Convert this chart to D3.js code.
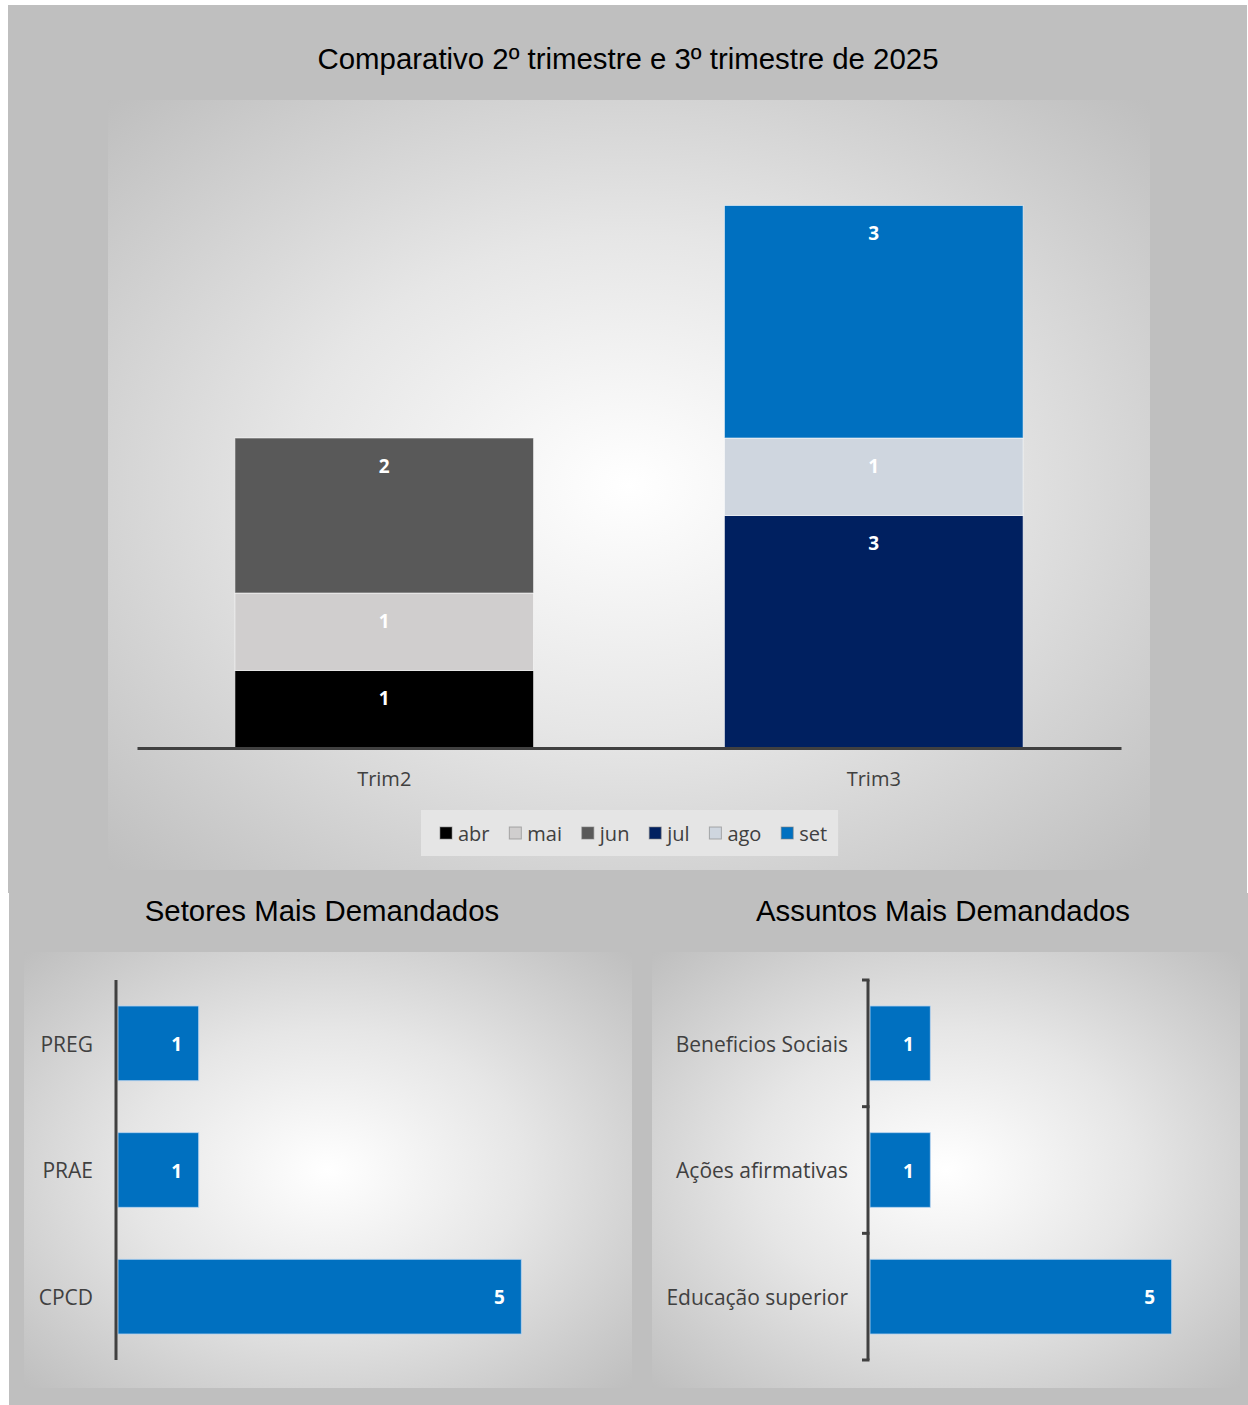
<!DOCTYPE html>
<html>
<head>
<meta charset="utf-8">
<script src="https://cdn.jsdelivr.net/npm/d3@7"></script>
<style>
  html, body { margin: 0; padding: 0; background: #ffffff; }
  svg { display: block; }
</style>
</head>
<body>
<svg id="chart" width="1248" height="1405"></svg>
<script>
// ---- Data ----
const quarters = ["Trim2", "Trim3"];
const months = ["abr", "mai", "jun", "jul", "ago", "set"];
const monthColors = ["#000000", "#d0cece", "#595959", "#002060", "#cfd6df", "#0070c0"];
// monthly counts per quarter (0 where the month is outside the quarter)
const trim2Values = [1, 1, 2, 0, 0, 0];
const trim3Values = [0, 0, 0, 3, 1, 3];

const sectors = ["PREG", "PRAE", "CPCD"];
const sectorValues = [1, 1, 5];

const subjects = ["Beneficios Sociais", "Ações afirmativas", "Educação superior"];
const subjectValues = [1, 1, 5];

const barBlue = "#0070c0";
const axisColor = "#404040";
const textColor = "#404040";
const panelGray = "#bfbfbf";
const labelFont = "'Open Sans', sans-serif";
const titleFont = "'Liberation Sans', Arial, sans-serif";

const svg = d3.select("#chart");
const defs = svg.append("defs");

function radial(id) {
  const g = defs.append("radialGradient").attr("id", id)
    .attr("cx", 0.5).attr("cy", 0.5).attr("r", 0.72);
  g.append("stop").attr("offset", "0%").attr("stop-color", "#ffffff");
  g.append("stop").attr("offset", "45%").attr("stop-color", "#e6e6e6");
  g.append("stop").attr("offset", "100%").attr("stop-color", "#bdbdbd");
}
radial("bgTop");
radial("bgLeft");
radial("bgRight");

// ---- Panels ----
svg.append("rect").attr("x", 8).attr("y", 5).attr("width", 1239).attr("height", 888).attr("fill", panelGray);
svg.append("rect").attr("x", 9).attr("y", 893).attr("width", 1239).attr("height", 512).attr("fill", panelGray);

// plot areas
svg.append("rect").attr("x", 108).attr("y", 100).attr("width", 1042).attr("height", 770).attr("fill", "url(#bgTop)");
svg.append("rect").attr("x", 24).attr("y", 952).attr("width", 608).attr("height", 436).attr("fill", "url(#bgLeft)");
svg.append("rect").attr("x", 652).attr("y", 952).attr("width", 588).attr("height", 436).attr("fill", "url(#bgRight)");

// ---- Titles ----
function title(x, y, t) {
  svg.append("text").attr("x", x).attr("y", y).attr("text-anchor", "middle")
    .attr("font-family", titleFont).attr("font-size", 29.4).attr("fill", "#000")
    .text(t);
}
title(628, 69, "Comparativo 2º trimestre e 3º trimestre de 2025");
title(322, 921, "Setores Mais Demandados");
title(943, 921, "Assuntos Mais Demandados");

// ---- Stacked column chart ----
const x = d3.scaleBand().domain(quarters).range([137, 1121]).paddingInner(0.39).paddingOuter(0.2);
const y = d3.scaleLinear().domain([0, 8]).range([748, 128]);

const rows = quarters.map((q, i) => {
  const vals = i === 0 ? trim2Values : trim3Values;
  const r = { quarter: q };
  months.forEach((m, j) => r[m] = vals[j]);
  return r;
});
const series = d3.stack().keys(months)(rows);

const colG = svg.append("g");
series.forEach((s, si) => {
  s.forEach(d => {
    const v = d[1] - d[0];
    if (v <= 0) return;
    colG.append("rect")
      .attr("x", x(d.data.quarter))
      .attr("y", y(d[1]))
      .attr("width", x.bandwidth())
      .attr("height", y(d[0]) - y(d[1]))
      .attr("fill", monthColors[si])
      .attr("stroke", "rgba(255,255,255,0.55)")
      .attr("stroke-width", 1);
    colG.append("text")
      .attr("x", x(d.data.quarter) + x.bandwidth() / 2)
      .attr("y", y(d[1]) + 28)
      .attr("dy", "0.35em")
      .attr("text-anchor", "middle")
      .attr("font-family", labelFont).attr("font-weight", 700).attr("font-size", 19)
      .attr("fill", "#ffffff")
      .text(v);
  });
});

// category axis
const xAxisG = svg.append("g").attr("transform", "translate(0,748)")
  .call(d3.axisBottom(x).tickSize(0).tickPadding(24));
xAxisG.select(".domain").attr("stroke", axisColor).attr("stroke-width", 3);
xAxisG.selectAll("text").attr("font-family", labelFont).attr("font-size", 20).attr("fill", textColor);

// legend
const legG = svg.append("g");
const legBox = legG.append("rect").attr("y", 810).attr("height", 46).attr("fill", "#e5e5e5");
const legGap = 19.8;
let lx = 440;
months.forEach((m, i) => {
  legG.append("rect").attr("x", lx).attr("y", 827).attr("width", 12).attr("height", 12)
    .attr("fill", monthColors[i]).attr("stroke", "rgba(128,128,128,0.6)").attr("stroke-width", 1);
  const t = legG.append("text").attr("x", lx + 18).attr("y", 834).attr("dy", "0.35em")
    .attr("font-family", labelFont).attr("font-size", 20).attr("fill", textColor).text(m);
  lx += 18 + t.node().getComputedTextLength() + legGap;
});
legBox.attr("x", 421).attr("width", lx - legGap + 11 - 421);

// ---- Horizontal bar charts ----
function hbar(cats, vals, x0, x1, opts) {
  const yb = d3.scaleBand().domain(cats).range([980, 1360]).paddingInner(0.41).paddingOuter(0.205);
  const xs = d3.scaleLinear().domain([0, 6]).range([x0 + 2, x1]);
  const g = svg.append("g");
  cats.forEach((c, i) => {
    g.append("rect")
      .attr("x", xs(0)).attr("y", yb(c))
      .attr("width", xs(vals[i]) - xs(0)).attr("height", yb.bandwidth())
      .attr("fill", barBlue)
      .attr("stroke", "rgba(190,215,240,0.8)").attr("stroke-width", 1);
    g.append("text")
      .attr("x", xs(vals[i]) - 22).attr("y", yb(c) + yb.bandwidth() / 2 + 1).attr("dy", "0.35em")
      .attr("text-anchor", "middle")
      .attr("font-family", labelFont).attr("font-weight", 700).attr("font-size", 19)
      .attr("fill", "#ffffff").text(vals[i]);
  });
  const axis = d3.axisLeft(yb).tickSize(0).tickPadding(opts.pad);
  const ag = g.append("g").attr("transform", `translate(${x0},0)`).call(axis);
  ag.select(".domain").attr("stroke", axisColor).attr("stroke-width", 3)
    .attr("d", "M0,980V1360");
  ag.selectAll("text").attr("font-family", labelFont).attr("font-size", 21).attr("fill", textColor)
    .attr("dy", "0.4em");
  if (opts.boundaryTicks) {
    const bounds = d3.range(cats.length + 1).map(k => 980 + k * (380 / cats.length));
    bounds.forEach(b => {
      g.append("line").attr("x1", x0 - 6).attr("x2", x0 + 1.5).attr("y1", b).attr("y2", b)
        .attr("stroke", axisColor).attr("stroke-width", 3);
    });
  }
}
hbar(sectors, sectorValues, 116, 602, { pad: 23, boundaryTicks: false });
hbar(subjects, subjectValues, 868, 1232, { pad: 20, boundaryTicks: true });
</script>
</body>
</html>
